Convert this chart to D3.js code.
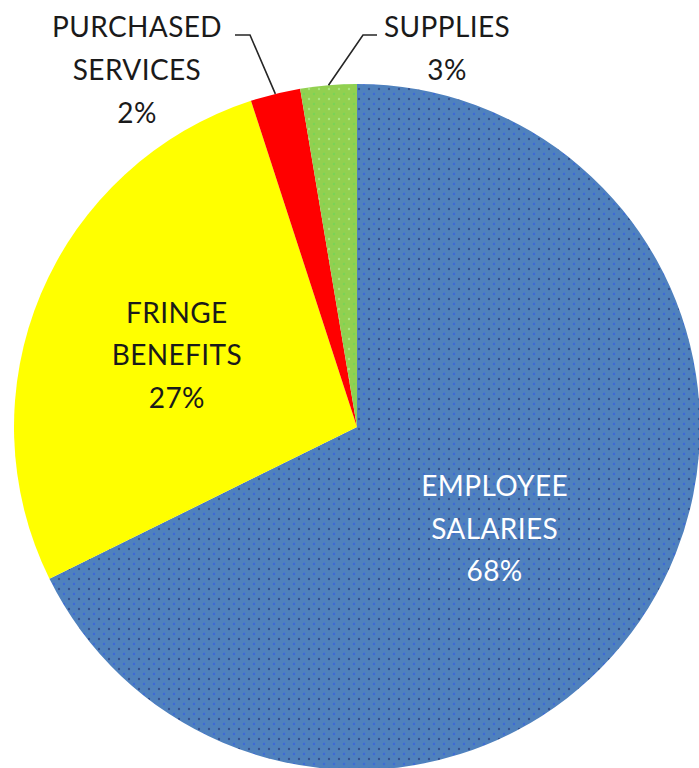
<!DOCTYPE html>
<html>
<head>
<meta charset="utf-8">
<script src="https://cdn.jsdelivr.net/npm/d3@7"></script>
<style>
html,body{margin:0;padding:0;background:#fff;}
svg{display:block;}
</style>
</head>
<body>
<svg id="chart" width="699" height="768"></svg>
<script>
// ---- data ----
const categories = ["EMPLOYEE SALARIES", "FRINGE BENEFITS", "PURCHASED SERVICES", "SUPPLIES"];
const labelLines = [["EMPLOYEE", "SALARIES"], ["FRINGE", "BENEFITS"], ["PURCHASED", "SERVICES"], ["SUPPLIES"]];
const values = [67.7, 27.3, 2.35, 2.65];
const colors = ["#4f81bd", "#ffff00", "#ff0000", "#92d050"];

const W = 699, H = 768;
const cx = 357, cy = 427, R = 343;
const svg = d3.select("#chart");

// dotted textures
const defs = svg.append("defs");
function dotPattern(id, base, dotA, dotB) {
  const p = defs.append("pattern").attr("id", id).attr("patternUnits", "userSpaceOnUse")
    .attr("width", 10).attr("height", 10);
  p.append("rect").attr("width", 10).attr("height", 10).attr("fill", base);
  p.append("circle").attr("cx", 2).attr("cy", 2).attr("r", 1.2).attr("fill", dotA);
  p.append("circle").attr("cx", 7).attr("cy", 7).attr("r", 1.2).attr("fill", dotB);
}
dotPattern("pBlue", colors[0], "#34508f", "#3d68d8");
dotPattern("pGreen", colors[3], "#aae880", "#78d456");
const fills = ["url(#pBlue)", colors[1], colors[2], "url(#pGreen)"];

const total = d3.sum(values);
const pie = d3.pie().sort(null).value(d => d)(values);
const arc = d3.arc().innerRadius(0).outerRadius(R);
const g = svg.append("g").attr("transform", `translate(${cx},${cy})`);

g.selectAll("path.slice").data(pie).join("path")
  .attr("class", "slice")
  .attr("d", arc)
  .attr("fill", (d, i) => fills[i]);

const pct = d => d3.format(".0%")(d.value / total);
const fontFamily = "Lato, 'Open Sans', sans-serif";
const fs = 28, lh = 42.5, ls = 0.4;

// inside labels
const insideRadius = [0.5, 0.57];
const insideNudge = [[-8, 11], [0, 4]];
[0, 1].forEach(i => {
  const d = pie[i];
  const a = (d.startAngle + d.endAngle) / 2;
  const rr = R * insideRadius[i];
  const x = rr * Math.sin(a) + insideNudge[i][0], y = -rr * Math.cos(a) + insideNudge[i][1];
  const lines = labelLines[i].concat([pct(d)]);
  const t = g.append("text")
    .attr("text-anchor", "middle")
    .attr("font-family", fontFamily)
    .attr("font-size", fs)
    .attr("letter-spacing", ls)
    .attr("fill", i === 0 ? "#ffffff" : "#1a1a1a");
  lines.forEach((ln, k) => {
    t.append("tspan").attr("x", x).attr("y", y + (k - (lines.length - 1) / 2) * lh + 10).text(ln);
  });
});

// outside labels with leader lines
const outside = [
  {i: 2, elbowY: 35, elbowX: 250, endX: 235, textX: 137, firstY: 37},
  {i: 3, elbowY: 35, elbowX: 363, endX: 377, textX: 447, firstY: 37}
];
outside.forEach(o => {
  const d = pie[o.i];
  const a = (d.startAngle + d.endAngle) / 2;
  const px = cx + R * Math.sin(a), py = cy - R * Math.cos(a);
  svg.append("polyline")
    .attr("points", `${px},${py} ${o.elbowX},${o.elbowY} ${o.endX},${o.elbowY}`)
    .attr("fill", "none").attr("stroke", "#262626").attr("stroke-width", 1.6);
  const lines = labelLines[o.i].concat([pct(d)]);
  const t = svg.append("text")
    .attr("text-anchor", "middle")
    .attr("font-family", fontFamily)
    .attr("font-size", fs)
    .attr("letter-spacing", ls)
    .attr("fill", "#1a1a1a");
  lines.forEach((ln, k) => {
    t.append("tspan").attr("x", o.textX).attr("y", o.firstY + k * 43).text(ln);
  });
});
</script>
</body>
</html>
